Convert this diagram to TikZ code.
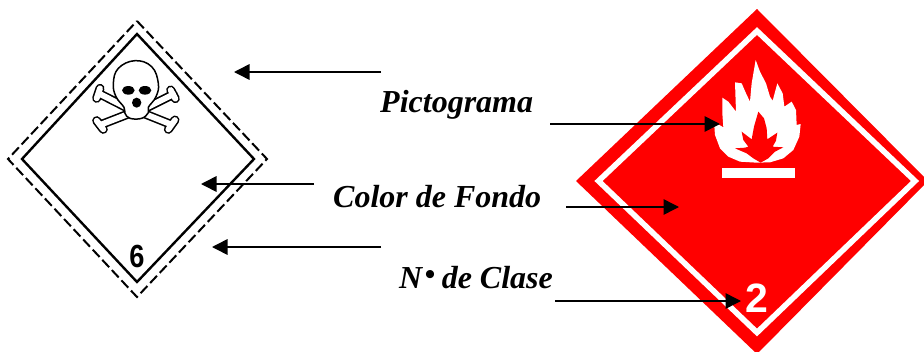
\documentclass[tikz,border=0pt]{standalone}
\usepackage{fontspec}
\setmainfont{Liberation Serif}
\newfontfamily\digitfont{Liberation Sans}
\usetikzlibrary{arrows.meta}
\tikzset{
  x=1pt,y=-1pt,
  label text/.style={inner sep=0pt,anchor=base west,font=\fontsize{32}{36}\selectfont\bfseries\itshape},
  pointer/.style={line width=1.5pt,-{Triangle[length=15.5pt,width=15.5pt]}},
  solid edge/.style={draw=black,line width=2.4pt,line join=miter},
  dash edge/.style={draw=black,line width=2pt,dash pattern=on 10pt off 4pt},
  bone black/.style={draw=black,line width=9pt,line cap=round,line join=round},
  bone white/.style={draw=white,line width=5.8pt,line cap=round,line join=round}
}
\begin{document}
\begin{tikzpicture}
\useasboundingbox (0,0) rectangle (924,351);
\begin{scope}
\clip (0,0) rectangle (924,351);
% red placard
\fill[red] (757,9)--(928,181)--(757,354)--(576,181)--cycle;
\draw[white,line width=5.6pt,miter limit=10] (757,31)--(915,181)--(757,332.5)--(598.5,181)--cycle;
\end{scope}
% flame
\begin{scope}[shift={(690,50)},scale=1/3]
\fill[white] (197,30)--(210,65)--(228,100)--(240,140)--(248,152)--(262,100)--(278,130)--(283,170)--(305,155)--(318,180)--(320,225)--(332,222)--(328,260)--(310,300)--(280,325)--(240,337)--(200,338)--(150,335)--(115,320)--(90,295)--(75,255)--(72,215)--(100,232)--(97,190)--(97,143)--(115,155)--(138,185)--(135,97)--(155,100)--(168,130)--(180,155)--(185,100)--cycle;
\fill[red] (205,185)--(222,205)--(230,235)--(232,268)--(262,248)--(258,272)--(248,290)--(280,292)--(255,305)--(235,325)--(212,338)--(190,325)--(170,310)--(135,295)--(165,293)--(175,290)--(160,270)--(155,245)--(185,268)--(192,230)--cycle;
\fill[white] (97,355) rectangle (315,383);
\end{scope}
\node[inner sep=0pt,text=white,font=\digitfont\bfseries\fontsize{41}{41}\selectfont] (num2) at (757,298) {2};
% white placard
\draw[dash edge] (137,21)--(267,159)--(137,297)--(8,159)--cycle;
\draw[solid edge] (137,34)--(254,159)--(137,282)--(22,159)--cycle;
\node[inner sep=0pt,xscale=0.85,font=\digitfont\bfseries\fontsize{32}{32}\selectfont] (num6) at (137,256) {6};
% skull and bones
\begin{scope}[shift={(80,50)},scale=1/3]
\foreach \st in {bone black,bone white}{
  \draw[\st] (60,115)--(50,145) (56,130)--(150,178);
  \draw[\st] (272,120)--(286,146) (280,133)--(190,178);
  \draw[\st] (50,212)--(70,238) (60,225)--(150,190);
  \draw[\st] (285,210)--(265,238) (275,224)--(190,190);
}
\draw[fill=white,line width=1.5pt] plot[smooth cycle,tension=0.7] coordinates {(132,172)(108,140)(100,100)(115,55)(165,32)(215,50)(235,100)(228,140)(205,172)(205,188)(185,205)(150,205)(135,190)};
\fill (145,121) ellipse (19 and 13);
\fill (195,121) ellipse (19 and 13);
\fill (170,158) ellipse (14 and 15);
\end{scope}
% labels
\node[label text] (pict) at (380,112) {Pictograma};
\node[label text] (fondo) at (333,207) {Color de Fondo};
\node[label text] (clase) at (399,288) {N\hspace{0.08em}\raisebox{0.12em}{\fontsize{30}{30}\selectfont\upshape\textbullet}\hspace{-0.05em} de Clase};
% connectors
\coordinate (a1s) at (381,72); \coordinate (a1e) at (234,72);
\coordinate (a2s) at (314,184); \coordinate (a2e) at (201,184);
\coordinate (a3s) at (381,247); \coordinate (a3e) at (212,247);
\coordinate (a4s) at (550,124); \coordinate (a4e) at (720,124);
\coordinate (a5s) at (566,207); \coordinate (a5e) at (679,207);
\coordinate (a6s) at (555,301); \coordinate (a6e) at (741,301);
\draw[pointer] (a1s)--(a1e);
\draw[pointer] (a2s)--(a2e);
\draw[pointer] (a3s)--(a3e);
\draw[pointer] (a4s)--(a4e);
\draw[pointer] (a5s)--(a5e);
\draw[pointer] (a6s)--(a6e);
\end{tikzpicture}
\end{document}
